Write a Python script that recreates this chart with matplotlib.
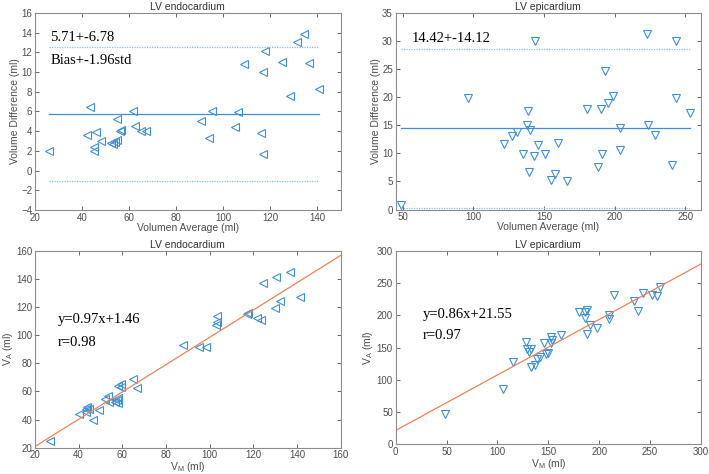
import numpy as np
import matplotlib
matplotlib.use("Agg")
import matplotlib.pyplot as plt

plt.rcParams['font.family'] = ['Liberation Sans', 'DejaVu Sans']
plt.rcParams['mathtext.fontset'] = 'custom'
plt.rcParams['mathtext.rm'] = 'Liberation Sans'

# Bland-Altman endocardium (promedio, diferencia)
endo_avg = [26, 42, 43.5, 45, 45, 46, 48, 52.5, 53, 54, 55, 55, 56, 56.5, 61.5, 62.5, 65, 67,
            90.5, 94, 95.5, 105, 106.5, 109, 116, 117, 117, 118, 125, 128.5, 131.5, 134.5, 136.5, 141]
endo_diff = [2.0, 3.6, 6.4, 2.4, 2.0, 3.9, 3.0, 2.8, 2.7, 2.9, 3.1, 5.2, 4.0, 4.1, 6.0, 4.5, 4.0, 4.0,
             5.0, 3.3, 6.0, 4.4, 5.9, 10.8, 3.8, 10.0, 1.7, 12.1, 11.0, 7.6, 13.0, 13.9, 10.9, 8.3]
endo_bias, endo_lim = 5.71, 6.78

# Bland-Altman epicardium
epi_avg = [49, 96.4, 121.7, 127.1, 130.7, 135.4, 138.5, 138.2, 139.4, 140.3, 143.1, 143.8, 145.4,
           151.0, 154.6, 157.9, 159.6, 166.1, 180.2, 187.8, 190.1, 191.3, 193.0, 195.3, 198.9,
           203.6, 204.0, 222.9, 223.6, 228.3, 240.3, 243.2, 243.2, 253.0]
epi_diff = [0.8, 19.9, 11.7, 13.0, 13.8, 9.9, 17.5, 15.0, 6.7, 14.2, 9.6, 29.9, 11.4,
            9.9, 5.3, 6.3, 11.9, 5.1, 17.9, 7.5, 17.9, 9.9, 24.6, 18.9, 20.2,
            14.5, 10.6, 31.2, 15.0, 13.2, 7.9, 19.8, 29.9, 17.2]
epi_bias, epi_lim = 14.42, 14.12

# Regresion endocardium (V_M, V_A)
endo_vm = [27, 40.2, 43.4, 43.7, 43.4, 44.5, 46.4, 49.5, 52.1, 53.6, 54.0, 56.6, 57.4, 57.9, 58.2,
           57.9, 59.2, 59.2, 65.0, 66.5, 87.6, 95.1, 98.2, 102.7, 103.2, 103.5, 117.3, 117.7,
           121.5, 123.5, 124.6, 130.4, 130.0, 132.3, 136.9, 141.5]
endo_va = [25.0, 43.7, 47.3, 48.7, 45.6, 47.5, 39.9, 46.8, 54.8, 56.7, 52.2, 52.7, 53.9, 52.0, 55.3,
           63.8, 63.4, 65.3, 68.8, 62.7, 93.0, 91.8, 91.8, 107.2, 109.1, 113.8, 114.8, 115.7,
           112.4, 110.8, 137.3, 141.6, 119.0, 124.3, 145.1, 126.9]
endo_fit = (0.97, 1.46, 0.98)

# Regresion epicardium
epi_vm = [49.0, 105.9, 115.7, 128.1, 129.4, 131.0, 132.7, 132.7, 136.6, 139.2, 141.5, 145.4, 147.4,
          149.7, 153.0, 153.0, 153.9, 162.7, 180.1, 185.6, 186.3, 187.9, 188.2, 190.5, 198.0,
          209.2, 209.5, 214.4, 234.0, 237.9, 242.8, 252.0, 256.9, 260.1]
epi_va = [47.7, 86.2, 127.7, 159.0, 147.2, 143.6, 147.2, 120.5, 123.1, 131.8, 135.9, 156.4, 140.0,
          141.0, 166.7, 157.4, 161.5, 169.2, 205.1, 196.4, 205.1, 208.2, 170.8, 184.6, 180.5,
          200.0, 194.9, 231.8, 221.5, 206.7, 234.9, 231.8, 229.2, 243.6]
epi_fit = (0.86, 21.55, 0.97)

blue = '#3d8fd6'
light_blue = '#8cc0ea'
orange = '#f08258'
gray_txt = '#4d4d4d'
serif = ['Liberation Serif', 'DejaVu Serif']


def estilo(ax, title, xlabel, ylabel):
    ax.set_title(title, fontsize=7.5, color='#333333', pad=2)
    ax.set_xlabel(xlabel, fontsize=7.5, color=gray_txt, labelpad=0)
    ax.set_ylabel(ylabel, fontsize=7.5, color=gray_txt, labelpad=1)
    ax.tick_params(direction='in', top=True, right=True, length=3, width=0.6,
                   labelsize=7, colors=gray_txt, pad=2)
    for s in ax.spines.values():
        s.set_color('#8c8c8c')
        s.set_linewidth(0.8)


def bland_altman(ax, avg, diff, bias, lim, marker):
    ax.plot(avg, diff, linestyle='none', marker=marker, ms=6.3, mfc='none', mec=blue, mew=0.8)
    xs = [min(avg), max(avg)]
    ax.plot(xs, [bias, bias], color=blue, lw=0.9)
    ax.plot(xs, [bias + lim, bias + lim], color=light_blue, lw=0.9, ls=(0, (1, 1)))
    ax.plot(xs, [bias - lim, bias - lim], color=light_blue, lw=0.9, ls=(0, (1, 1)))


def regresion(ax, vm, va, fit, marker):
    ax.plot(vm, va, linestyle='none', marker=marker, ms=6.3, mfc='none', mec=blue, mew=0.8)
    x0, x1 = ax.get_xlim()
    ax.plot([x0, x1], [fit[0] * x0 + fit[1], fit[0] * x1 + fit[1]], color=orange, lw=0.9)
    ax.set_xlim(x0, x1)


fig = plt.figure(figsize=(7.09, 4.74), dpi=100)

# Arriba izquierda
ax1 = fig.add_axes([0.0494, 0.557, 0.431, 0.416])
bland_altman(ax1, endo_avg, endo_diff, endo_bias, endo_lim, '<')
ax1.set_xlim(20, 150)
ax1.set_ylim(-4, 16)
ax1.set_xticks(np.arange(20, 141, 20))
ax1.set_yticks(np.arange(-4, 17, 2))
ax1.text(26.5, 13.5, '5.71+-6.78', family=serif, fontsize=10.5, va='center')
ax1.text(26.5, 11.2, 'Bias+-1.96std', family=serif, fontsize=10.5, va='center')
estilo(ax1, 'LV endocardium', 'Volumen Average (ml)', 'Volume Difference (ml)')

# Arriba derecha
ax2 = fig.add_axes([0.558, 0.558, 0.4307, 0.415])
bland_altman(ax2, epi_avg, epi_diff, epi_bias, epi_lim, 'v')
ax2.set_xlim(45, 261)
ax2.set_ylim(0, 35)
ax2.set_xticks(np.arange(50, 251, 50))
ax2.text(56.5, 30.5, '14.42+-14.12', family=serif, fontsize=10.5, va='center')
estilo(ax2, 'LV epicardium', 'Volumen Average (ml)', 'Volume Difference (ml)')

# Abajo izquierda
ax3 = fig.add_axes([0.0494, 0.0555, 0.431, 0.4155])
ax3.set_xlim(20, 160)
ax3.set_ylim(20, 160)
regresion(ax3, endo_vm, endo_va, endo_fit, '<')
ax3.text(30.5, 110.8, 'y=0.97x+1.46', family=serif, fontsize=10.5, va='center')
ax3.text(30.5, 95, 'r=0.98', family=serif, fontsize=10.5, va='center')
estilo(ax3, 'LV endocardium', r'V$_\mathregular{M}$ (ml)', r'V$_\mathregular{A}$ (ml)')

# Abajo derecha
ax4 = fig.add_axes([0.558, 0.0625, 0.4307, 0.4085])
ax4.set_xlim(0, 300)
ax4.set_ylim(0, 300)
regresion(ax4, epi_vm, epi_va, epi_fit, 'v')
ax4.text(27, 201, 'y=0.86x+21.55', family=serif, fontsize=10.5, va='center')
ax4.text(27, 169, 'r=0.97', family=serif, fontsize=10.5, va='center')
estilo(ax4, 'LV epicardium', r'V$_\mathregular{M}$ (ml)', r'V$_\mathregular{A}$ (ml)')

fig.savefig('out.png', dpi=100)
